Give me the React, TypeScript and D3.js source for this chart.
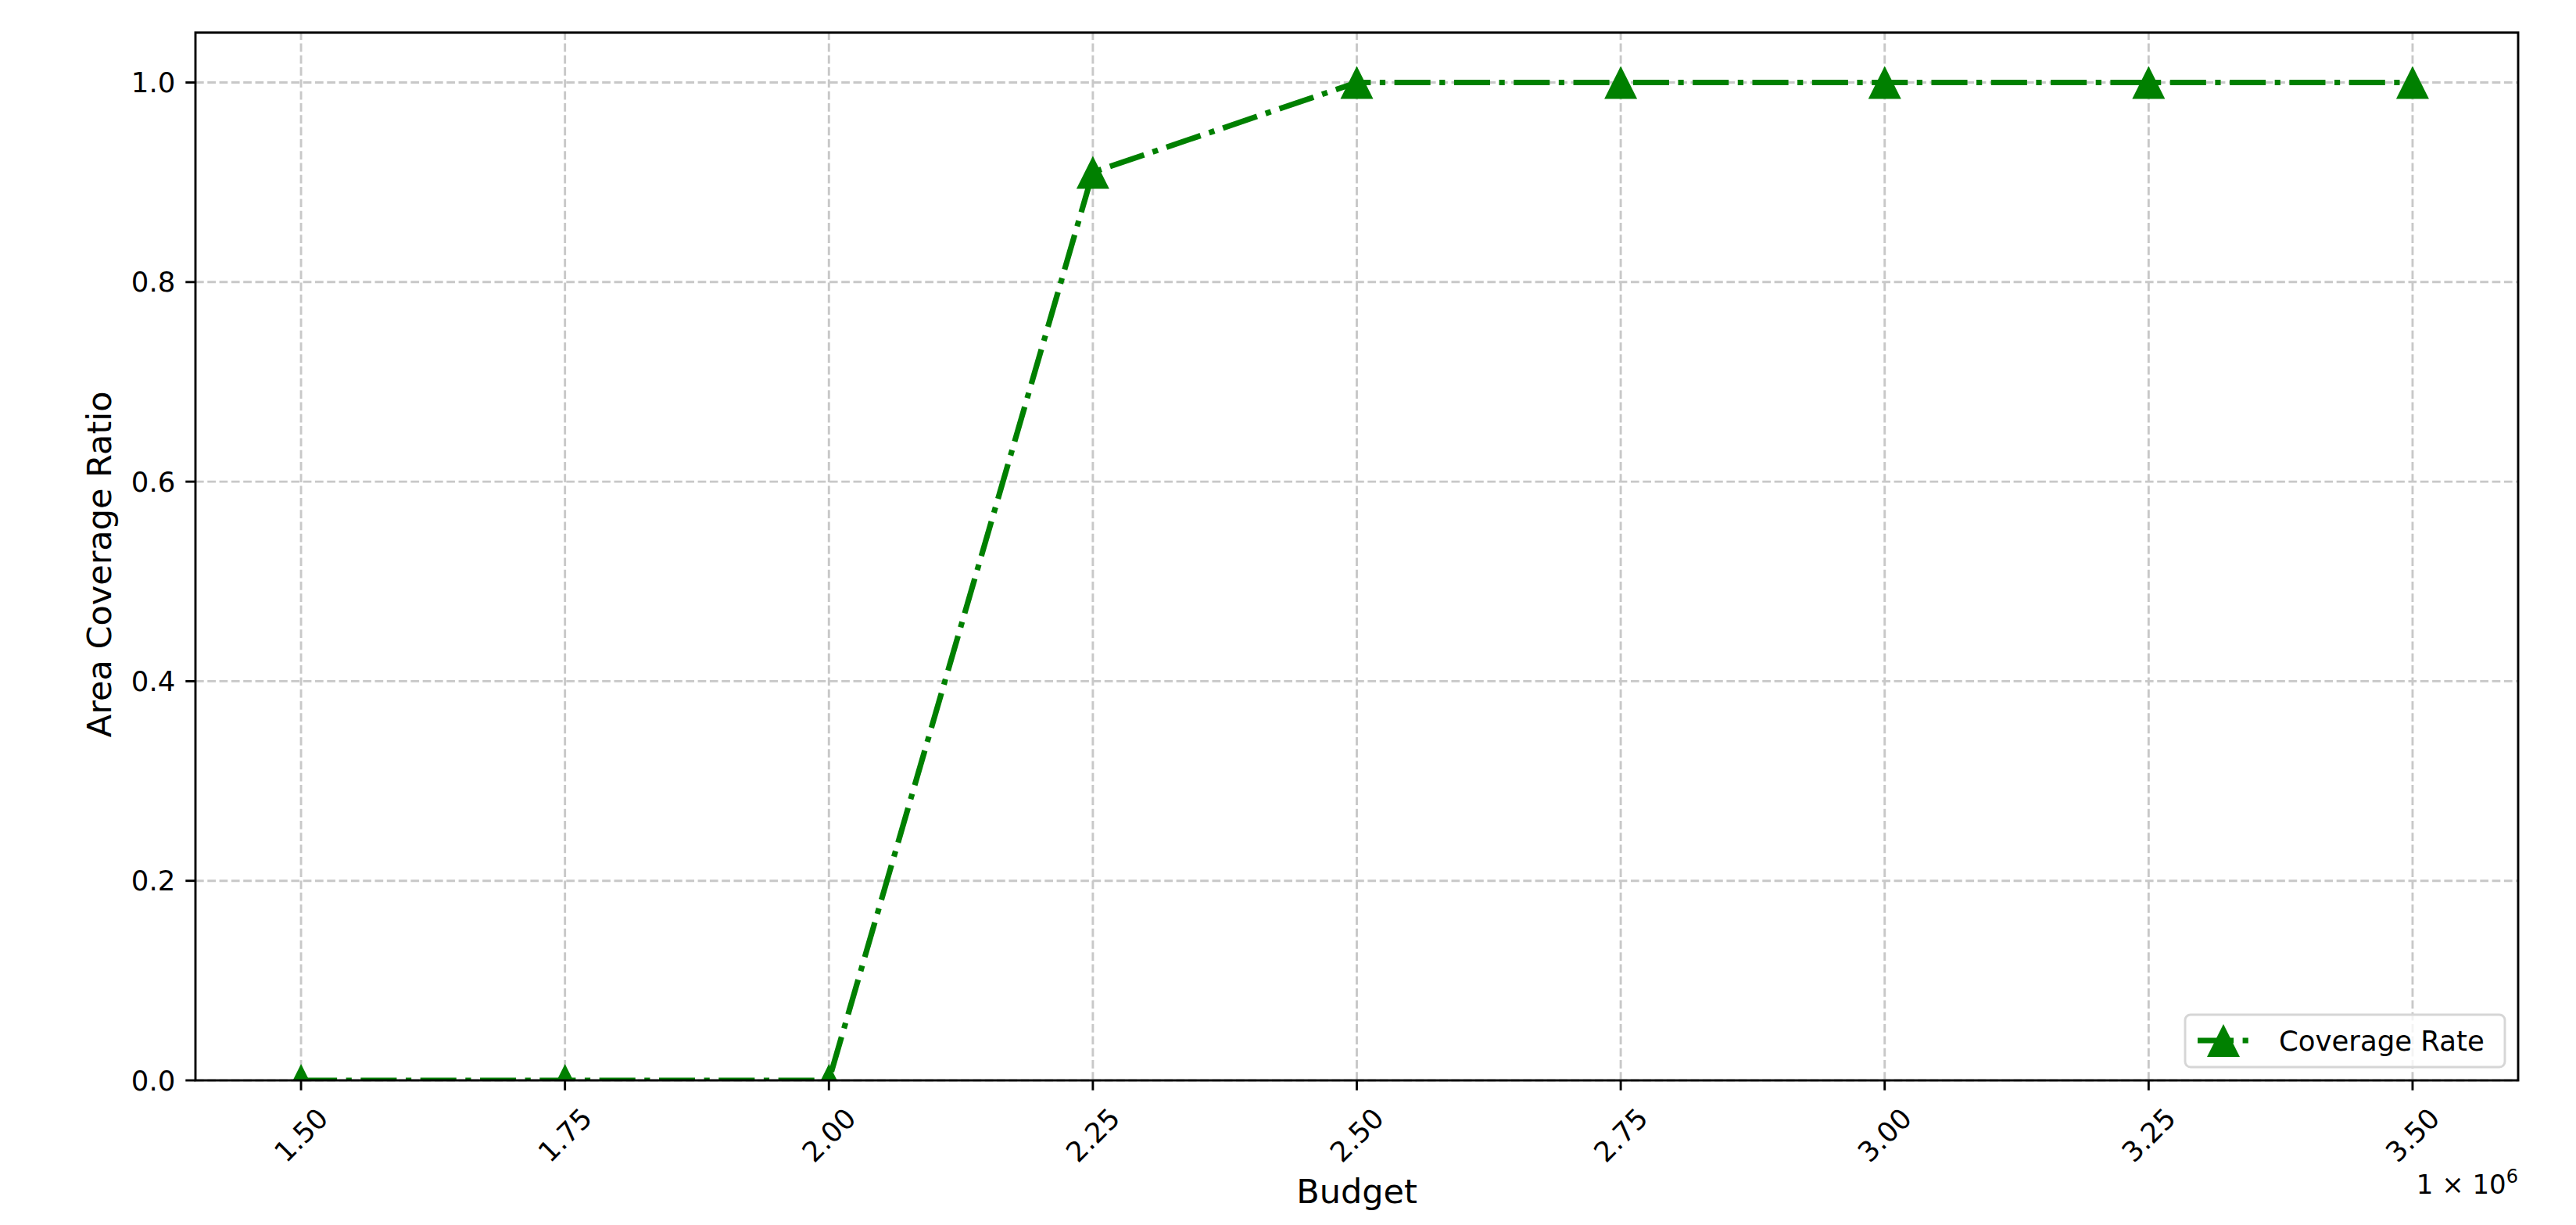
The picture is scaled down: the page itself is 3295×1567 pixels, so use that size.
import React from "react";
import * as d3 from "d3";

const budgets = [1.5e6, 1.75e6, 2.0e6, 2.25e6, 2.5e6, 2.75e6, 3.0e6, 3.25e6, 3.5e6];
const coverage = [0, 0, 0, 0.91, 1, 1, 1, 1, 1];
const xTicks = [1.5e6, 1.75e6, 2.0e6, 2.25e6, 2.5e6, 2.75e6, 3.0e6, 3.25e6, 3.5e6];
const yTicks = [0, 0.2, 0.4, 0.6, 0.8, 1.0];
const seriesName = "Coverage Rate";

const W = 3295, H = 1567;
const margin = { top: 41.7, right: 3295 - 3221, bottom: 1567 - 1382, left: 250 };
const green = "#008000";
const font = "'DejaVu Sans', sans-serif";

function tri(s: number) {
  return `M0,${-s}L${s},${s}L${-s},${s}Z`;
}

export default function App() {
  const x = d3.scaleLinear().domain([1.4e6, 3.6e6]).range([margin.left, W - margin.right]);
  const y = d3.scaleLinear().domain([0, 1.05]).range([H - margin.bottom, margin.top]);
  const pts = budgets.map((b, i) => [x(b), y(coverage[i])] as [number, number]);
  const line = d3.line()(pts) || "";
  const x0 = margin.left, x1 = W - margin.right, y0 = H - margin.bottom, y1 = margin.top;
  const lw = 7.2;
  const dash = `${6.4 * lw},${1.6 * lw},${1 * lw},${1.6 * lw}`;

  return (
    <>
      <style>{"body{margin:0}"}</style>
      <svg width={W} height={H} style={{ display: "block", fontFamily: font }}>
        <defs>
          <clipPath id="plot">
            <rect x={x0} y={y1} width={x1 - x0} height={y0 - y1} />
          </clipPath>
        </defs>
        <rect width={W} height={H} fill="#fff" />
        {/* grid */}
        <g stroke="#c8c8c8" strokeWidth={2.9} strokeDasharray="10.7,4.6">
          {xTicks.map(t => (
            <line key={"gx" + t} x1={x(t)} x2={x(t)} y1={y0} y2={y1} />
          ))}
          {yTicks.map(t => (
            <line key={"gy" + t} x1={x0} x2={x1} y1={y(t)} y2={y(t)} />
          ))}
        </g>
        {/* series */}
        <g clipPath="url(#plot)">
          <path d={line} fill="none" stroke={green} strokeWidth={lw} strokeDasharray={dash} />
          {pts.map((p, i) => (
            <path key={i} d={tri(21)} transform={`translate(${p[0]},${p[1]})`} fill={green} />
          ))}
        </g>
        {/* spines */}
        <rect x={x0} y={y1} width={x1 - x0} height={y0 - y1} fill="none" stroke="#000" strokeWidth={2.9} />
        {/* x ticks */}
        {xTicks.map(t => (
          <g key={"xt" + t}>
            <line x1={x(t)} x2={x(t)} y1={y0} y2={y0 + 12.7} stroke="#000" strokeWidth={2.9} />
            <text
              transform={`translate(${x(t)},${1452}) rotate(-45)`}
              textAnchor="middle"
              dominantBaseline="central"
              fontSize={35.5}
            >
              {(t / 1e6).toFixed(2)}
            </text>
          </g>
        ))}
        {/* y ticks */}
        {yTicks.map(t => (
          <g key={"yt" + t}>
            <line x1={x0 - 12.7} x2={x0} y1={y(t)} y2={y(t)} stroke="#000" strokeWidth={2.9} />
            <text x={x0 - 12.7 - 13} y={y(t)} textAnchor="end" dominantBaseline="central" fontSize={35.5}>
              {t.toFixed(1)}
            </text>
          </g>
        ))}
        {/* offset text */}
        <text x={x1} y={1527} textAnchor="end" fontSize={34}>
          1 × 10<tspan dy={-14} fontSize={24}>6</tspan>
        </text>
        {/* axis labels */}
        <text x={(x0 + x1) / 2} y={1539} textAnchor="middle" fontSize={43}>Budget</text>
        <text transform={`translate(142,${(y0 + y1) / 2 + 10}) rotate(-90)`} textAnchor="middle" fontSize={43}>
          Area Coverage Ratio
        </text>
        {/* legend */}
        <g>
          <rect x={2795} y={1298} width={409} height={67} rx={7} fill="#fff" fillOpacity={0.8} stroke="#d6d6d6" strokeWidth={2.9} />
          <path d={`M2811,1331L2877,1331`} stroke={green} strokeWidth={lw} strokeDasharray={dash} />
          <path d={tri(21)} transform="translate(2844,1331)" fill={green} />
          <text x={2915} y={1331} dominantBaseline="central" fontSize={35.5}>{seriesName}</text>
        </g>
      </svg>
    </>
  );
}
